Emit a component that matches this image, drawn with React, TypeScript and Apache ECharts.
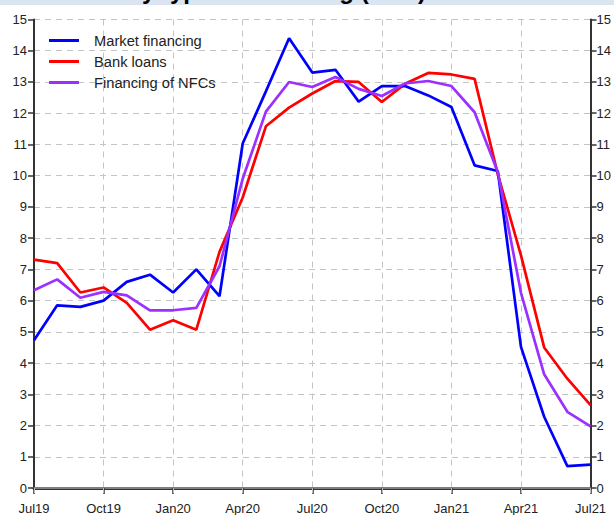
import React, { useEffect, useRef } from "react";
import * as echarts from "echarts";

const months = [
  "Jul19", "Aug19", "Sep19", "Oct19", "Nov19", "Dec19",
  "Jan20", "Feb20", "Mar20", "Apr20", "May20", "Jun20",
  "Jul20", "Aug20", "Sep20", "Oct20", "Nov20", "Dec20",
  "Jan21", "Feb21", "Mar21", "Apr21", "May21", "Jun21", "Jul21",
];

const marketFinancing = [
  4.73, 5.85, 5.8, 6.0, 6.6, 6.83, 6.26, 7.0, 6.14, 11.03, 12.7, 14.4,
  13.3, 13.39, 12.37, 12.87, 12.87, 12.57, 12.2, 10.33, 10.15, 4.52, 2.28, 0.7, 0.75,
];

const bankLoans = [
  7.31, 7.2, 6.26, 6.42, 5.93, 5.07, 5.37, 5.07, 7.56, 9.3, 11.58, 12.18,
  12.63, 13.03, 13.0, 12.36, 12.94, 13.29, 13.24, 13.1, 10.05, 7.45, 4.5, 3.5, 2.65,
];

const financingNFCs = [
  6.33, 6.68, 6.09, 6.28, 6.17, 5.69, 5.69, 5.77, 7.1, 9.9, 12.05, 13.0,
  12.84, 13.16, 12.78, 12.55, 12.95, 13.03, 12.87, 12.03, 10.12, 6.25, 3.64, 2.44, 1.97,
];

const seriesNames = ["Market financing", "Bank loans", "Financing of NFCs"];
const titleText = "NFC debt by type of financing (in %)";

const FONT = "'Liberation Sans', Arial, Helvetica, sans-serif";

export default function App() {
  const ref = useRef<HTMLDivElement>(null);

  useEffect(() => {
    document.body.style.margin = "0";
    if (!ref.current) return;
    const chart = echarts.init(ref.current, undefined, { renderer: "svg" });
    const axisLabelStyle = { color: "#222", fontSize: 13, fontFamily: FONT };
    const yCommon = {
      type: "value" as const,
      min: 0,
      max: 15,
      interval: 1,
      axisLine: { show: true, lineStyle: { color: "#333", width: 2 } },
      axisTick: { show: true, inside: false, length: 6, lineStyle: { color: "#333", width: 1.5 } },
    };
    const legendIcon = "path://M0,5.5h30v3h-30z M0,0h0.05v0.05h-0.05z M0,14h0.05v-0.05h-0.05z";
    chart.setOption({
      animation: false,
      backgroundColor: "#fff",
      graphic: [
        { type: "rect", left: 0, top: 0, shape: { x: 0, y: 0, width: 614, height: 5 }, style: { fill: "#dbe5f1" }, z: 0 },
        {
          type: "text",
          x: 14,
          y: -9.5,
          style: {
            text: titleText,
            fontSize: 24,
            fontWeight: "bold",
            fontFamily: FONT,
            fill: "#000",
            align: "left",
            verticalAlign: "middle",
          },
          z: 1,
        },
      ],
      legend: {
        orient: "vertical",
        left: 49,
        top: 33,
        itemWidth: 30,
        itemHeight: 14,
        itemGap: 6,
        padding: 0,
        icon: legendIcon,
        data: seriesNames.map((n) => ({ name: n, icon: legendIcon })),
        textStyle: { color: "#222", fontSize: 14.7, fontFamily: FONT, padding: [0, 0, 0, 10] },
      },
      grid: { left: 34, right: 23, top: 19.5, bottom: 27, containLabel: false },
      xAxis: [
        {
          type: "category",
          data: months,
          boundaryGap: false,
          axisLine: { show: true, lineStyle: { color: "#333", width: 3 } },
          axisTick: { show: true, interval: 2, length: 6, lineStyle: { color: "#333", width: 1.5 } },
          axisLabel: { ...axisLabelStyle, interval: 2, margin: 14 },
          splitLine: { show: true, interval: 2, lineStyle: { color: "#c4c4c4", type: [6, 5], width: 1 } },
        },
        {
          type: "category",
          data: months,
          boundaryGap: false,
          position: "top",
          axisLine: { show: true, lineStyle: { color: "#999", width: 1.5 } },
          axisTick: { show: true, inside: true, interval: 2, length: 5, lineStyle: { color: "#bbb", width: 1 } },
          axisLabel: { show: false },
          splitLine: { show: false },
        },
      ],
      yAxis: [
        {
          ...yCommon,
          position: "left",
          axisLabel: { ...axisLabelStyle, margin: 7 },
          splitLine: { show: true, lineStyle: { color: "#c4c4c4", type: [6, 5], width: 1 } },
        },
        {
          ...yCommon,
          position: "right",
          axisLabel: { ...axisLabelStyle, margin: 6 },
          splitLine: { show: false },
        },
      ],
      series: [
        {
          name: seriesNames[0],
          type: "line",
          data: marketFinancing,
          symbol: "none",
          lineStyle: { color: "#0000ff", width: 2.7 },
          itemStyle: { color: "#0000ff" },
          z: 3,
        },
        {
          name: seriesNames[1],
          type: "line",
          data: bankLoans,
          symbol: "none",
          lineStyle: { color: "#ff0000", width: 2.7 },
          itemStyle: { color: "#ff0000" },
          z: 2,
        },
        {
          name: seriesNames[2],
          type: "line",
          data: financingNFCs,
          symbol: "none",
          lineStyle: { color: "#9b30ff", width: 2.7 },
          itemStyle: { color: "#9b30ff" },
          z: 4,
        },
      ],
    });
    return () => chart.dispose();
  }, []);

  return <div ref={ref} style={{ width: 614, height: 515 }} />;
}
